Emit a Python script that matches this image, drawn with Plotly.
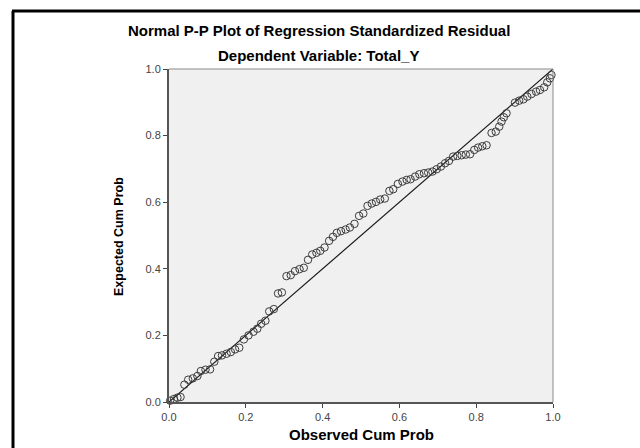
import plotly.graph_objects as go

observed_cum_prob = [
    0.003, 0.013, 0.022, 0.030, 0.040, 0.050, 0.062, 0.074, 0.083, 0.095,
    0.107, 0.118, 0.128, 0.138, 0.150, 0.161, 0.172, 0.183, 0.195, 0.207,
    0.220, 0.230, 0.240, 0.251, 0.261, 0.273, 0.284, 0.294, 0.306, 0.317,
    0.328, 0.340, 0.351, 0.362, 0.373, 0.384, 0.394, 0.405, 0.417, 0.427,
    0.437, 0.448, 0.460, 0.471, 0.483, 0.495, 0.506, 0.517, 0.528, 0.539,
    0.550, 0.562, 0.574, 0.584, 0.596, 0.608, 0.619, 0.629, 0.641, 0.652,
    0.664, 0.675, 0.686, 0.697, 0.708, 0.719, 0.729, 0.740, 0.751, 0.762,
    0.773, 0.784, 0.795, 0.805, 0.816, 0.827, 0.840, 0.851, 0.860, 0.866,
    0.872, 0.879, 0.901, 0.912, 0.923, 0.933, 0.944, 0.956, 0.966, 0.977,
    0.985, 0.992, 0.996,
]
expected_cum_prob = [
    0.004, 0.009, 0.013, 0.015, 0.052, 0.067, 0.071, 0.078, 0.093, 0.097,
    0.098, 0.121, 0.138, 0.140, 0.145, 0.150, 0.158, 0.163, 0.188, 0.200,
    0.211, 0.220, 0.235, 0.244, 0.272, 0.279, 0.326, 0.329, 0.378, 0.381,
    0.393, 0.399, 0.403, 0.427, 0.443, 0.448, 0.454, 0.464, 0.484, 0.496,
    0.508, 0.513, 0.518, 0.524, 0.535, 0.559, 0.566, 0.589, 0.596, 0.601,
    0.608, 0.611, 0.634, 0.639, 0.655, 0.662, 0.667, 0.669, 0.677, 0.684,
    0.687, 0.689, 0.692, 0.699, 0.707, 0.717, 0.724, 0.737, 0.739, 0.741,
    0.743, 0.744, 0.757, 0.764, 0.768, 0.771, 0.808, 0.812, 0.827, 0.842,
    0.855, 0.867, 0.899, 0.905, 0.909, 0.917, 0.925, 0.932, 0.937, 0.945,
    0.960, 0.972, 0.982,
]
reference_line = [0.0, 1.0]
tick_values = [0.0, 0.2, 0.4, 0.6, 0.8, 1.0]
tick_labels = ["0.0", "0.2", "0.4", "0.6", "0.8", "1.0"]

title_main = "Normal P-P Plot of Regression Standardized Residual"
title_sub = "Dependent Variable: Total_Y"
x_title = "Observed Cum Prob"
y_title = "Expected Cum Prob"

FONT = "Liberation Sans, Arial, sans-serif"
L, R, T, B = 169, 87, 69, 46
W, H = 640, 448
PW, PH = W - L - R, H - T - B

def px_x(px):
    return (px - L) / PW

def px_y(py):
    return (H - B - py) / PH

fig = go.Figure()
fig.add_trace(go.Scatter(
    x=reference_line, y=reference_line, mode="lines",
    line=dict(color="#1a1a1a", width=1.2), hoverinfo="skip", showlegend=False,
))
fig.add_trace(go.Scatter(
    x=observed_cum_prob, y=expected_cum_prob, mode="markers",
    marker=dict(symbol="circle-open", size=7.5, color="#3c3c3c", line=dict(width=1, color="#3c3c3c")),
    cliponaxis=False, showlegend=False,
))

axis_common = dict(
    range=[0, 1], tickvals=tick_values, ticktext=tick_labels,
    ticks="outside", ticklen=4, tickwidth=1, tickcolor="#444",
    showline=True, linecolor="#555", linewidth=2,
    showgrid=False, zeroline=False,
    tickfont=dict(family=FONT, size=11, color="#444"),
    fixedrange=True,
)
fig.update_xaxes(**axis_common)
fig.update_yaxes(**axis_common)

fig.update_layout(
    width=W, height=H,
    margin=dict(l=L, r=R, t=T, b=B, pad=0),
    paper_bgcolor="white", plot_bgcolor="#f0f0f0",
    font=dict(family=FONT),
    shapes=[
        dict(type="line", xref="paper", yref="paper", x0=0, x1=1, y0=1, y1=1,
             line=dict(color="#8a8a8a", width=1)),
        dict(type="line", xref="paper", yref="paper", x0=1, x1=1, y0=0, y1=1,
             line=dict(color="#8a8a8a", width=1)),
        dict(type="line", xref="paper", yref="paper", x0=px_x(12), x1=px_x(640), y0=px_y(11), y1=px_y(11),
             line=dict(color="black", width=3)),
        dict(type="line", xref="paper", yref="paper", x0=px_x(13), x1=px_x(13), y0=px_y(11), y1=px_y(448),
             line=dict(color="black", width=3)),
    ],
    annotations=[
        dict(text="<b>%s</b>" % title_main, xref="paper", yref="paper", x=px_x(319), y=px_y(30),
             xanchor="center", yanchor="middle", showarrow=False, font=dict(family=FONT, size=15, color="black")),
        dict(text="<b>%s</b>" % title_sub, xref="paper", yref="paper", x=px_x(318), y=px_y(55),
             xanchor="center", yanchor="middle", showarrow=False, font=dict(family=FONT, size=15, color="black")),
        dict(text="<b>%s</b>" % x_title, xref="paper", yref="paper", x=px_x(361), y=px_y(434),
             xanchor="center", yanchor="middle", showarrow=False, font=dict(family=FONT, size=15, color="black")),
        dict(text="<b>%s</b>" % y_title, xref="paper", yref="paper", x=px_x(119), y=px_y(237),
             xanchor="center", yanchor="middle", showarrow=False, textangle=-90,
             font=dict(family=FONT, size=12.5, color="black")),
    ],
)

fig.write_html("out.html", config={"displayModeBar": False, "staticPlot": True},
               post_script="document.body.style.margin='0';document.body.style.overflow='hidden';")
